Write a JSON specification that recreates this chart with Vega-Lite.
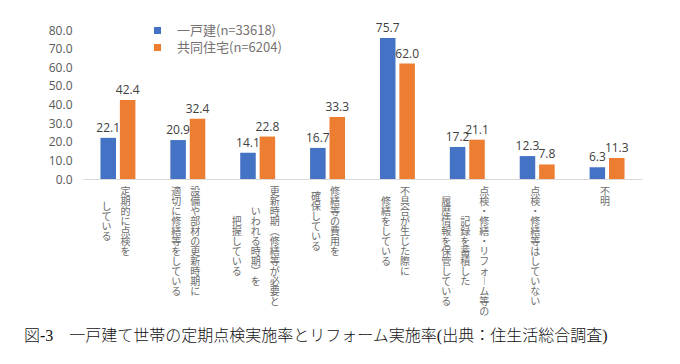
{
  "$schema": "https://vega.github.io/schema/vega-lite/v6.json",
  "width": 559,
  "height": 149,
  "autosize": {"type": "none"},
  "padding": {"left": 83, "top": 30, "right": 38, "bottom": 185},
  "background": "white",
  "config": {"view": {"stroke": null}, "font": "Noto Sans CJK JP"},
  "title": {
    "text": "図-3　一戸建て世帯の定期点検実施率とリフォーム実施率(出典：住生活総合調査)",
    "orient": "bottom",
    "anchor": "start",
    "frame": "group",
    "dx": -59,
    "offset": 12,
    "font": "Liberation Serif, Noto Sans CJK JP",
    "fontSize": 16,
    "fontWeight": 300,
    "color": "#111111"
  },
  "data": {
    "values": [
      {"cat": "定期的に点検を\nしている", "series": "一戸建(n=33618)", "value": 22.1},
      {"cat": "定期的に点検を\nしている", "series": "共同住宅(n=6204)", "value": 42.4},
      {"cat": "設備や部材の更新時期に\n適切に修繕等をしている", "series": "一戸建(n=33618)", "value": 20.9},
      {"cat": "設備や部材の更新時期に\n適切に修繕等をしている", "series": "共同住宅(n=6204)", "value": 32.4},
      {"cat": "更新時期（修繕等が必要と\nいわれる時期）を\n把握している", "series": "一戸建(n=33618)", "value": 14.1},
      {"cat": "更新時期（修繕等が必要と\nいわれる時期）を\n把握している", "series": "共同住宅(n=6204)", "value": 22.8},
      {"cat": "修繕等の費用を\n確保している", "series": "一戸建(n=33618)", "value": 16.7},
      {"cat": "修繕等の費用を\n確保している", "series": "共同住宅(n=6204)", "value": 33.3},
      {"cat": "不具合が生じた際に\n修繕をしている", "series": "一戸建(n=33618)", "value": 75.7},
      {"cat": "不具合が生じた際に\n修繕をしている", "series": "共同住宅(n=6204)", "value": 62.0},
      {"cat": "点検・修繕・リフォーム等の\n記録を蓄積した\n履歴情報を保管している", "series": "一戸建(n=33618)", "value": 17.2},
      {"cat": "点検・修繕・リフォーム等の\n記録を蓄積した\n履歴情報を保管している", "series": "共同住宅(n=6204)", "value": 21.1},
      {"cat": "点検・修繕等はしていない", "series": "一戸建(n=33618)", "value": 12.3},
      {"cat": "点検・修繕等はしていない", "series": "共同住宅(n=6204)", "value": 7.8},
      {"cat": "不明", "series": "一戸建(n=33618)", "value": 6.3},
      {"cat": "不明", "series": "共同住宅(n=6204)", "value": 11.3}
    ]
  },
  "layer": [
    {
      "mark": {"type": "bar"},
      "encoding": {
        "x": {
          "field": "cat", "type": "nominal", "sort": null,
          "scale": {"paddingInner": 0.5, "paddingOuter": 0.25},
          "axis": {
            "orient": "bottom", "title": null, "ticks": false, "domain": true,
            "domainColor": "#d9d9d9", "domainWidth": 1, "grid": false,
            "labelAngle": 0, "labelBaseline": "top", "labelAlign": "center",
            "labelFont": "Noto Sans CJK JP", "labelFontSize": 10, "labelLineHeight": 10,
            "labelColor": "#6b6b6b", "labelPadding": 7, "labelOverlap": false,
            "labelBound": false, "labelFlush": false, "labelLimit": 0,
            "labelExpr": "length(split(datum.value,'\\n')[0]||'') ? split(replace(replace(replace(split(datum.value,'\\n')[0],'（','︵'),'）','︶'),'ー','︱'),'') : ''",
            "encoding": {
              "labels": {
                "dx": {"value": {"expr": "(length(split(datum.value,'\\n'))-1)*9.5 - 0*19 - 2"}},
                "dy": {"value": {"expr": "(max(length(split(datum.value,'\\n')[0]), length(split(datum.value,'\\n')[1]||''), length(split(datum.value,'\\n')[2]||'')) - length(split(datum.value,'\\n')[0]||''))*5"}}
              }
            }
          }
        },
        "xOffset": {
          "field": "series", "type": "nominal",
          "scale": {"domain": ["一戸建(n=33618)", "共同住宅(n=6204)"], "paddingInner": 0.2, "paddingOuter": 0}
        },
        "y": {
          "field": "value", "type": "quantitative",
          "scale": {"domain": [0, 80], "nice": false},
          "axis": {
            "title": null, "values": [0, 10, 20, 30, 40, 50, 60, 70, 80], "format": ".1f",
            "grid": false, "domain": false, "ticks": false, "labelPadding": 11,
            "labelOverlap": false,
            "labelFont": "Open Sans", "labelFontSize": 12, "labelColor": "#595959"
          }
        },
        "color": {
          "field": "series", "type": "nominal",
          "scale": {"domain": ["一戸建(n=33618)", "共同住宅(n=6204)"], "range": ["#4472C4", "#ED7D31"]},
          "legend": {
            "orient": "none", "legendX": 68, "legendY": -6, "title": null,
            "symbolType": "square", "symbolSize": 49, "symbolStrokeWidth": 0,
            "labelFont": "Noto Sans CJK JP", "labelFontSize": 13, "labelColor": "#767171",
            "labelOffset": 13, "rowPadding": 3
          }
        }
      }
    },
    {
      "mark": {"type": "text", "baseline": "alphabetic", "dy": -6, "font": "Open Sans", "fontSize": 12, "color": "#404040"},
      "encoding": {
        "x": {"field": "cat", "type": "nominal", "sort": null, "axis": null},
        "xOffset": {"field": "series", "type": "nominal"},
        "y": {
          "field": "value", "type": "quantitative",
          "axis": {
            "title": null, "values": [0, 10, 20, 30, 40, 50, 60, 70, 80], "format": ".1f",
            "grid": false, "domain": false, "ticks": false, "labelPadding": 11,
            "labelOverlap": false,
            "labelFont": "Open Sans", "labelFontSize": 12, "labelColor": "#595959"
          }
        },
        "text": {"field": "value", "type": "quantitative", "format": ".1f"}
      }
    },
    {
      "mark": {"type": "text", "text": "", "opacity": 0},
      "encoding": {
        "x": {
          "field": "cat", "type": "nominal", "sort": null,
          "axis": {
            "orient": "bottom", "title": null, "ticks": false, "domain": false, "grid": false,
            "labelAngle": 0, "labelBaseline": "top", "labelAlign": "center",
            "labelFont": "Noto Sans CJK JP", "labelFontSize": 10, "labelLineHeight": 10,
            "labelColor": "#6b6b6b", "labelPadding": 7, "labelOverlap": false,
            "labelBound": false, "labelFlush": false, "labelLimit": 0,
            "labelExpr": "length(split(datum.value,'\\n')[1]||'') ? split(replace(replace(replace(split(datum.value,'\\n')[1],'（','︵'),'）','︶'),'ー','︱'),'') : ''",
            "encoding": {
              "labels": {
                "dx": {"value": {"expr": "(length(split(datum.value,'\\n'))-1)*9.5 - 1*19 - 2"}},
                "dy": {"value": {"expr": "(max(length(split(datum.value,'\\n')[0]), length(split(datum.value,'\\n')[1]||''), length(split(datum.value,'\\n')[2]||'')) - length(split(datum.value,'\\n')[1]||''))*5"}}
              }
            }
          }
        }
      }
    },
    {
      "mark": {"type": "text", "text": "", "opacity": 0},
      "encoding": {
        "x": {
          "field": "cat", "type": "nominal", "sort": null,
          "axis": {
            "orient": "bottom", "title": null, "ticks": false, "domain": false, "grid": false,
            "labelAngle": 0, "labelBaseline": "top", "labelAlign": "center",
            "labelFont": "Noto Sans CJK JP", "labelFontSize": 10, "labelLineHeight": 10,
            "labelColor": "#6b6b6b", "labelPadding": 7, "labelOverlap": false,
            "labelBound": false, "labelFlush": false, "labelLimit": 0,
            "labelExpr": "length(split(datum.value,'\\n')[2]||'') ? split(replace(replace(replace(split(datum.value,'\\n')[2],'（','︵'),'）','︶'),'ー','︱'),'') : ''",
            "encoding": {
              "labels": {
                "dx": {"value": {"expr": "(length(split(datum.value,'\\n'))-1)*9.5 - 2*19 - 2"}},
                "dy": {"value": {"expr": "(max(length(split(datum.value,'\\n')[0]), length(split(datum.value,'\\n')[1]||''), length(split(datum.value,'\\n')[2]||'')) - length(split(datum.value,'\\n')[2]||''))*5"}}
              }
            }
          }
        }
      }
    }
  ],
  "resolve": {"axis": {"x": "independent"}}
}
